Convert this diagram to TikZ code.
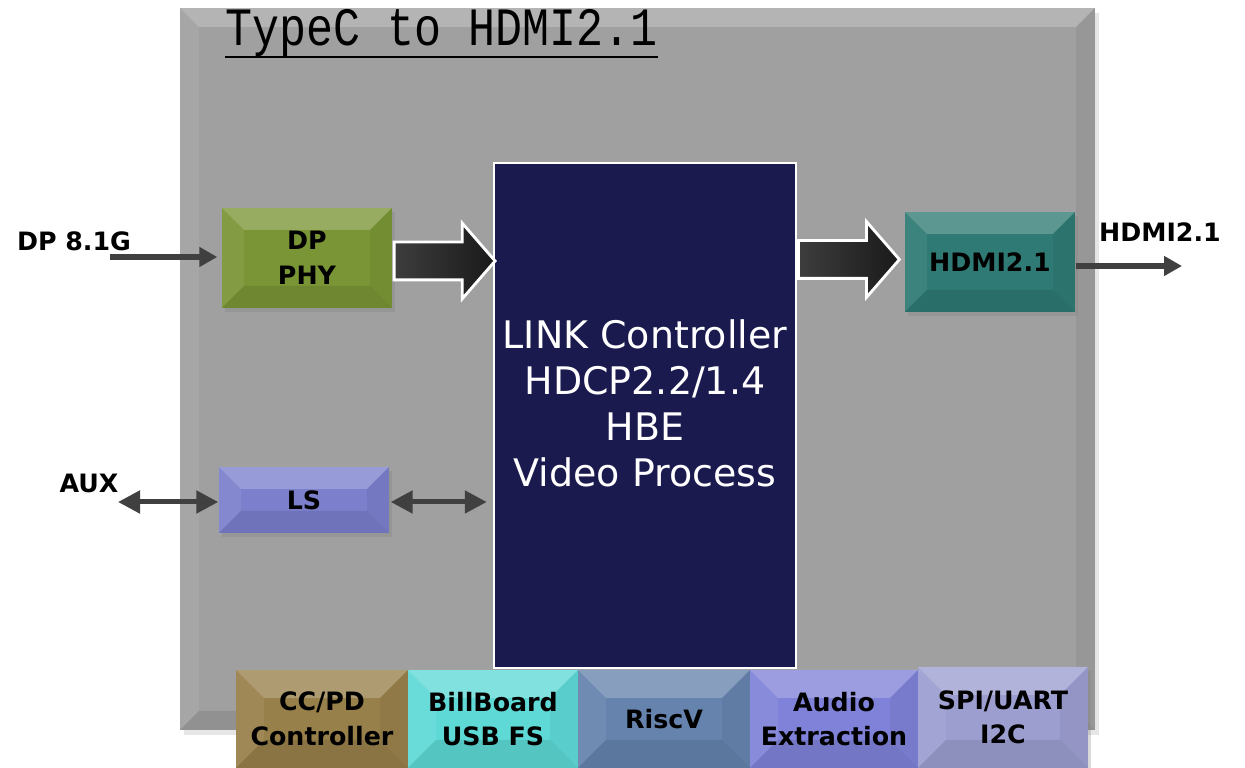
\documentclass[tikz,border=0pt]{standalone}
\usepackage{fontspec}
\setmainfont{DejaVu Sans}
\newfontfamily\titlefont{Liberation Mono}
\usetikzlibrary{arrows.meta,shapes.arrows,shadows}

\definecolor{chipgray}{HTML}{A0A0A0}
\definecolor{phygreen}{HTML}{7A9535}
\definecolor{hdmiteal}{HTML}{2F7A74}
\definecolor{lsblue}{HTML}{7B7FCC}
\definecolor{linknavy}{HTML}{1B1A4E}
\definecolor{ccbrown}{HTML}{98804A}
\definecolor{billcyan}{HTML}{5ED9D6}
\definecolor{riscslate}{HTML}{6683AD}
\definecolor{audioblue}{HTML}{7F82D8}
\definecolor{spilav}{HTML}{9C9ED0}
\definecolor{wire}{HTML}{404040}

\tikzset{
  bevelled/.style={path picture={
    \fill[white,opacity=.22] (path picture bounding box.north west) -- (path picture bounding box.north east)
      -- ([xshift=-#1,yshift=-#1]path picture bounding box.north east) -- ([xshift=#1,yshift=-#1]path picture bounding box.north west) -- cycle;
    \fill[white,opacity=.07] (path picture bounding box.north west) -- ([xshift=#1,yshift=-#1]path picture bounding box.north west)
      -- ([xshift=#1,yshift=#1]path picture bounding box.south west) -- (path picture bounding box.south west) -- cycle;
    \fill[black,opacity=.09] (path picture bounding box.south west) -- ([xshift=#1,yshift=#1]path picture bounding box.south west)
      -- ([xshift=-#1,yshift=#1]path picture bounding box.south east) -- (path picture bounding box.south east) -- cycle;
    \fill[black,opacity=.05] (path picture bounding box.north east) -- ([xshift=-#1,yshift=-#1]path picture bounding box.north east)
      -- ([xshift=-#1,yshift=#1]path picture bounding box.south east) -- (path picture bounding box.south east) -- cycle;
  }},
  block/.style={draw=none,inner sep=0pt,align=center,minimum width=17mm,minimum height=10mm,
    font=\fontsize{7.2}{9.8}\selectfont\bfseries,text=black,bevelled=2.2mm,
    drop shadow={opacity=.3,shadow xshift=.3mm,shadow yshift=-.4mm}},
  tile/.style={block,minimum height=9.8mm,bevelled=2.8mm},
  pin/.style={font=\fontsize{7.2}{9}\selectfont\bfseries,inner sep=0pt},
  wirearrow/.style={draw=wire,line width=.55mm,-{Triangle[length=1.8mm,width=1.9mm]}},
  busarrow/.style={draw=wire,line width=.5mm,{Triangle[length=2.2mm,width=2.2mm]}-{Triangle[length=2.2mm,width=2.2mm]}},
  fatarrow/.style={single arrow,anchor=tail,draw=white,line width=.8pt,inner xsep=0pt,inner ysep=1.75mm,
    single arrow head extend=1.9mm,single arrow tip angle=98,minimum height=10.1mm,
    left color=black!76,right color=black!90}
}

\begin{document}
\begin{tikzpicture}[x=0.1mm,y=-0.1mm]
  \useasboundingbox (0,0) rectangle (1245,768);
  \clip (0,0) rectangle (1245,768);

  % chip outline
  \node[draw=none,fill=chipgray,minimum width=91.5mm,minimum height=72.2mm,bevelled=1.9mm,
    drop shadow={opacity=.2,shadow xshift=.4mm,shadow yshift=-.5mm}] (chip) at (637.5,369) {};
  \node[anchor=base west,inner sep=0pt] (title) at (225,46)
    {\titlefont\fontsize{12.8}{14}\selectfont\scalebox{1}[1.2]{TypeC to HDMI2.1}};
  \draw[line width=.22mm] ([yshift=-1.1mm]title.base west) -- ([yshift=-1.1mm]title.base east);

  % blocks
  \node[block,fill=phygreen] (phy) at (307,258) {DP\\PHY};
  \node[block,fill=hdmiteal] (hdmi) at (990,262) {HDMI2.1};
  \node[block,fill=lsblue,minimum height=6.6mm] (ls) at (304,500) {LS};
  \node[draw=white,line width=.7pt,fill=linknavy,minimum width=30.2mm,minimum height=50.5mm] (link) at (645,415.5) {};
  \node[text=white,align=center,font=\fontsize{10.8}{13.1}\selectfont] (linklbl) at ([yshift=1.2mm]link.center)
    {LINK Controller\\HDCP2.2/1.4\\HBE\\Video Process};

  % peripherals
  \node[tile,fill=ccbrown,minimum width=17.2mm] (ccpd) at (322,719) {CC/PD\\Controller};
  \node[tile,fill=billcyan] (bill) at (493,719) {BillBoard\\USB FS};
  \node[tile,fill=riscslate,minimum width=17.2mm] (risc) at (664,719) {RiscV};
  \node[tile,fill=audioblue,minimum width=16.8mm] (audio) at (834,719) {Audio\\Extraction};
  \node[tile,fill=spilav,minimum height=10.1mm] (spi) at (1003,717.5) {SPI/UART\\I2C};

  % data path
  \node[fatarrow] (fat1) at ([yshift=-.3mm]phy.east) {};
  \node[fatarrow] (fat2) at (797,259.5) {};

  % pins
  \node[pin] (dpin) at (74,241) {DP 8.1G};
  \node[pin] (auxin) at (89,483) {AUX};
  \node[pin] (hdmiout) at (1160,232) {HDMI2.1};
  \coordinate (dpsrc) at (110,257);
  \coordinate (auxsrc) at (118,502);
  \coordinate (hdmidst) at (1182,266);
  \draw[wirearrow,shorten >=.4mm] (dpsrc) -- (dpsrc -| phy.west);
  \draw[wirearrow] (hdmidst -| hdmi.east) -- (hdmidst);
  \draw[busarrow] (auxsrc) -- (auxsrc -| ls.west);
  \draw[busarrow,shorten <=.1mm,shorten >=.6mm] (auxsrc -| ls.east) -- (auxsrc -| link.west);
\end{tikzpicture}
\end{document}
